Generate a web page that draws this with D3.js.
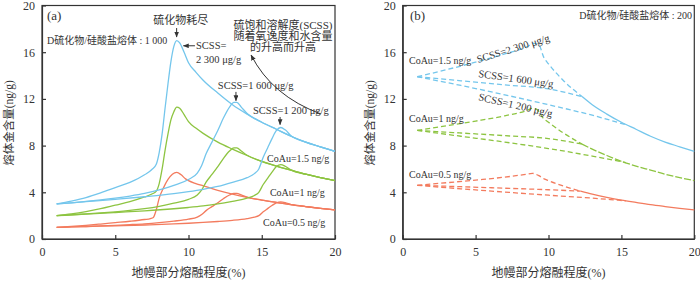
<!DOCTYPE html>
<html>
<head>
<meta charset="utf-8">
<script src="https://cdn.jsdelivr.net/npm/d3@7"></script>
<style>
body { margin: 0; background: #fff; }
svg text { font-family: "Liberation Serif", "Times New Roman", "Noto Sans CJK SC", serif; fill: #333; }
</style>
</head>
<body>
<svg width="700" height="281"></svg>
<script>
const percentTicks = [0, 5, 10, 15, 20];
const goldTicks = [0, 4, 8, 12, 16, 20];

// (a) D sulfide/silicate melt = 1000, [melting %, Au ng/g]
const aBlue2300 = [[1,3.0],[2,3.25],[3,3.55],[4,3.95],[5,4.4],[6,4.85],[7,5.5],[7.5,5.95],[7.8,6.4],[8.0,7.4],[8.2,9.0],[8.4,11.2],[8.6,13.3],[8.8,15.2],[9.0,16.5],[9.2,17.0],[9.4,16.8],[9.7,16.0],[10,15.1],[10.5,14.3],[11,13.6],[12,12.5],[13,11.5],[14,10.7],[15,10.0],[16,9.4],[17,8.8],[18,8.3],[19,7.9],[20,7.5]];
const aBlue1600 = [[1,3.0],[2,3.1],[3,3.22],[4,3.35],[5,3.5],[6,3.68],[7,3.9],[8,4.2],[9,4.6],[10,5.1],[10.6,5.65],[10.9,6.3],[11.2,7.3],[11.6,8.3],[12.0,9.3],[12.4,10.4],[12.8,11.3],[13.1,11.7],[13.3,11.7],[13.6,11.3],[14,10.75],[15,10.0],[16,9.4],[17,8.8],[18,8.3],[19,7.9],[20,7.5]];
const aBlue1200 = [[1,3.0],[3,3.2],[5,3.4],[7,3.62],[9,3.88],[10,4.05],[11,4.25],[12,4.5],[13,4.85],[14,5.25],[14.5,5.6],[14.8,6.0],[15.1,7.0],[15.4,7.8],[15.7,8.6],[16.0,9.3],[16.3,9.55],[16.6,9.35],[17,8.85],[18,8.3],[19,7.9],[20,7.5]];
const aGreen2300 = [[1,2.0],[2,2.15],[3,2.35],[4,2.6],[5,2.9],[6,3.2],[7,3.6],[7.5,3.85],[7.8,4.1],[8.0,4.75],[8.2,6.0],[8.4,7.6],[8.6,9.0],[8.8,10.2],[9.0,10.9],[9.2,11.3],[9.4,11.2],[9.7,10.65],[10,10.05],[10.5,9.5],[11,9.05],[12,8.3],[13,7.7],[14,7.15],[15,6.65],[16,6.25],[17,5.9],[18,5.55],[19,5.25],[20,5.0]];
const aGreen1600 = [[1,2.0],[2,2.07],[3,2.15],[4,2.23],[5,2.33],[6,2.45],[7,2.6],[8,2.8],[9,3.07],[10,3.4],[10.6,3.77],[10.9,4.2],[11.2,4.87],[11.6,5.53],[12.0,6.2],[12.4,6.93],[12.8,7.53],[13.1,7.8],[13.3,7.8],[13.6,7.53],[14,7.17],[15,6.65],[16,6.25],[17,5.9],[18,5.55],[19,5.25],[20,5.0]];
const aGreen1200 = [[1,2.0],[3,2.13],[5,2.27],[7,2.41],[9,2.59],[10,2.7],[11,2.83],[12,3.0],[13,3.23],[14,3.5],[14.5,3.73],[14.8,4.0],[15.1,4.67],[15.4,5.2],[15.7,5.73],[16.0,6.2],[16.3,6.37],[16.6,6.23],[17,5.9],[18,5.55],[19,5.25],[20,5.0]];
const aRed2300 = [[1,1.0],[2,1.08],[3,1.17],[4,1.28],[5,1.4],[6,1.52],[7,1.67],[7.4,1.75],[7.6,1.85],[7.8,2.5],[8.0,3.5],[8.3,4.4],[8.6,5.1],[8.9,5.55],[9.2,5.7],[9.5,5.5],[9.8,5.15],[10,5.0],[10.5,4.75],[11,4.55],[12,4.17],[13,3.85],[14,3.57],[15,3.33],[16,3.13],[17,2.94],[18,2.78],[19,2.63],[20,2.5]];
const aRed1600 = [[1,1.0],[2,1.03],[3,1.07],[4,1.12],[5,1.17],[6,1.23],[7,1.3],[8,1.4],[9,1.53],[10,1.7],[10.6,1.88],[10.9,2.1],[11.2,2.43],[11.6,2.77],[12.0,3.1],[12.4,3.47],[12.8,3.77],[13.1,3.9],[13.3,3.9],[13.6,3.77],[14,3.58],[15,3.33],[16,3.13],[17,2.94],[18,2.78],[19,2.63],[20,2.5]];
const aRed1200 = [[1,1.0],[3,1.07],[5,1.13],[7,1.2],[9,1.29],[10,1.35],[11,1.42],[12,1.5],[13,1.6],[14,1.75],[14.5,1.87],[14.8,2.0],[15.1,2.33],[15.4,2.6],[15.7,2.87],[16.0,3.1],[16.3,3.18],[16.6,3.12],[17,2.95],[18,2.78],[19,2.63],[20,2.5]];

// (b) D sulfide/silicate melt = 200
const bBlue2300 = [[1,13.9],[3,14.5],[5,15.15],[7,15.85],[8.5,16.45],[9.0,16.75],[9.3,16.7],[9.7,15.5],[10,15.0],[11,13.6],[12.3,12.2]];
const bBlue1600 = [[1,13.9],[4,13.55],[7,13.2],[10,12.85],[12.3,12.2]];
const bBlue1200 = [[1,13.9],[4,13.15],[7,12.35],[10,11.5],[13,10.6],[15.4,9.75]];
const bBlueTail = [[12.3,12.2],[13,11.5],[14,10.7],[15,10.0],[16,9.4],[17,8.8],[18,8.3],[19,7.9],[20,7.5]];
const bGreen2300 = [[1,9.3],[3,9.7],[5,10.1],[7,10.55],[8.5,11.0],[8.9,11.2],[9.2,11.1],[9.6,10.4],[10,10.0],[11,9.1],[12.3,8.13]];
const bGreen1600 = [[1,9.3],[4,9.08],[7,8.85],[10,8.6],[12.3,8.13]];
const bGreen1200 = [[1,9.3],[4,8.8],[7,8.3],[10,7.75],[13,7.1],[15.3,6.55]];
const bGreenTail = [[12.3,8.13],[13,7.7],[14,7.15],[15,6.65],[16,6.25],[17,5.9],[18,5.55],[19,5.25],[20,5.0]];
const bRed2300 = [[1,4.6],[3,4.82],[5,5.05],[7,5.3],[8.5,5.55],[8.9,5.62],[9.3,5.45],[9.7,5.15],[10,5.0],[11,4.55],[12.2,4.1]];
const bRed1600 = [[1,4.6],[4,4.48],[7,4.35],[10,4.22],[12.2,4.1]];
const bRed1200 = [[1,4.6],[4,4.3],[7,4.02],[10,3.75],[13,3.5],[15.3,3.27]];
const bRedTail = [[12.2,4.1],[13,3.85],[14,3.57],[15,3.33],[16,3.13],[17,2.94],[18,2.78],[19,2.63],[20,2.5]];

const blue = "#74c6ec", green = "#8dc441", red = "#f37b5e";
const ink = "#333";

var svg = d3.select("svg");
const plotTop = 5.5, plotBottom = 239;

svg.append("defs").append("marker")
    .attr("id", "arrow")
    .attr("viewBox", "0 0 10 8")
    .attr("refX", 9).attr("refY", 4)
    .attr("markerWidth", 6).attr("markerHeight", 5)
    .attr("markerUnits", "userSpaceOnUse")
    .attr("orient", "auto")
    .append("path").attr("d", "M0,0 L10,4 L0,8 Z").attr("fill", ink);

function makePanel(x0, x1) {
    const x = d3.scaleLinear().domain([0, 20]).range([x0, x1]);
    const y = d3.scaleLinear().domain([0, 20]).range([plotBottom, plotTop]);
    const g = svg.append("g");

    g.append("rect")
        .attr("x", x0).attr("y", plotTop)
        .attr("width", x1 - x0).attr("height", plotBottom - plotTop)
        .attr("fill", "none").attr("stroke", ink).attr("stroke-width", 1.2);

    const xa = g.append("g").attr("transform", `translate(0,${plotBottom})`)
        .call(d3.axisBottom(x).tickValues(percentTicks).tickSizeInner(-4).tickSizeOuter(0).tickPadding(8));
    const ya = g.append("g").attr("transform", `translate(${x0},0)`)
        .call(d3.axisLeft(y).tickValues(goldTicks).tickSizeInner(-4).tickSizeOuter(0).tickPadding(7));
    [xa, ya].forEach(a => {
        a.attr("font-family", null).attr("font-size", null);
        a.selectAll("text").attr("font-size", 12).attr("fill", ink);
        a.selectAll("line, path").attr("stroke", ink).attr("stroke-width", 1.2);
    });

    g.append("text")
        .attr("x", (x0 + x1) / 2).attr("y", 277)
        .attr("text-anchor", "middle").attr("font-size", 12)
        .text("地幔部分熔融程度(%)");
    g.append("text")
        .attr("transform", `translate(${x0 - 29},123) rotate(-90)`)
        .attr("text-anchor", "middle").attr("font-size", 11.5)
        .text("熔体金含量(ng/g)");

    const line = d3.line().x(d => x(d[0])).y(d => y(d[1])).curve(d3.curveMonotoneX);
    return { g, x, y, line };
}

function curve(p, data, color, dash) {
    p.g.append("path")
        .attr("d", p.line(data))
        .attr("fill", "none")
        .attr("stroke", color)
        .attr("stroke-width", 1.3)
        .attr("stroke-dasharray", dash || null);
}

function label(p, xv, yv, txt, size, anchor) {
    return p.g.append("text")
        .attr("x", p.x(xv)).attr("y", p.y(yv))
        .attr("font-size", size || 10)
        .attr("text-anchor", anchor || "start")
        .text(txt);
}

function arrow(p, xa, ya, xb, yb) {
    p.g.append("line")
        .attr("x1", p.x(xa)).attr("y1", p.y(ya))
        .attr("x2", p.x(xb)).attr("y2", p.y(yb))
        .attr("stroke", ink).attr("stroke-width", 1)
        .attr("marker-end", "url(#arrow)");
}

// ---- panel (a)
const pa = makePanel(42, 335);
[[aRed1200, red], [aRed1600, red], [aRed2300, red],
 [aGreen1200, green], [aGreen1600, green], [aGreen2300, green],
 [aBlue1200, blue], [aBlue1600, blue], [aBlue2300, blue]]
    .forEach(c => curve(pa, c[0], c[1]));

pa.g.append("text").attr("x", 47).attr("y", 20).attr("font-size", 13).text("(a)");
pa.g.append("text").attr("x", 47).attr("y", 44).attr("font-size", 10).text("D硫化物/硅酸盐熔体 : 1 000");
label(pa, 9.47, 18.42, "硫化物耗尽", 11, "middle");
arrow(pa, 9.19, 18.07, 9.19, 17.3);
label(pa, 10.51, 16.27, "SCSS=", 10.5);
label(pa, 10.51, 15.07, "2 300 μg/g", 10.5);
arrow(pa, 10.44, 16.55, 9.65, 16.55);
label(pa, 12.0, 12.85, "SCSS=1 600 μg/g", 10.5);
arrow(pa, 13.24, 12.6, 13.24, 11.85);
label(pa, 14.4, 10.7, "SCSS=1 200 μg/g", 10.5);
arrow(pa, 16.25, 10.45, 16.25, 9.8);
label(pa, 15.36, 6.6, "CoAu=1.5 ng/g", 10);
label(pa, 15.56, 3.68, "CoAu=1 ng/g", 10);
label(pa, 15.09, 1.11, "CoAu=0.5 ng/g", 10);
label(pa, 16.45, 17.99, "硫饱和溶解度(SCSS)", 11, "middle");
label(pa, 16.45, 17.04, "随着氧逸度和水含量", 11, "middle");
label(pa, 16.45, 16.1, "的升高而升高", 11, "middle");
pa.g.append("path")
    .attr("d", `M${pa.x(19.04)},${pa.y(10.71)} Q${pa.x(15.7)},${pa.y(12.25)} ${pa.x(14.27)},${pa.y(15.76)}`)
    .attr("fill", "none").attr("stroke", ink).attr("stroke-width", 1)
    .attr("marker-end", "url(#arrow)");

// ---- panel (b)
const pb = makePanel(402.7, 694.3);
const dash = "5,3";
[[bRed1200, red], [bRed1600, red], [bRed2300, red],
 [bGreen1200, green], [bGreen1600, green], [bGreen2300, green],
 [bBlue1200, blue], [bBlue1600, blue], [bBlue2300, blue]]
    .forEach(c => curve(pb, c[0], c[1], dash));
curve(pb, bRedTail, red);
curve(pb, bGreenTail, green, "7,2");
curve(pb, bBlueTail, blue);

pb.g.append("text").attr("x", 410).attr("y", 20).attr("font-size", 13).text("(b)");
pb.g.append("text").attr("x", 692).attr("y", 19).attr("font-size", 10).attr("text-anchor", "end").text("D硫化物/硅酸盐熔体 : 200");
label(pb, 0.43, 14.99, "CoAu=1.5 ng/g", 10);
label(pb, 0.43, 10.02, "CoAu=1 ng/g", 10);
label(pb, 0.43, 5.22, "CoAu=0.5 ng/g", 10);
[[5.16, 15.07, -17, "SCSS=2 300 μg/g"],
 [5.16, 13.88, 8, "SCSS=1 600 μg/g"],
 [5.16, 11.9, 13, "SCSS=1 200 μg/g"]].forEach(t => {
    pb.g.append("text")
        .attr("transform", `translate(${pb.x(t[0])},${pb.y(t[1])}) rotate(${t[2]})`)
        .attr("font-size", 10.5)
        .text(t[3]);
});
</script>
</body>
</html>
